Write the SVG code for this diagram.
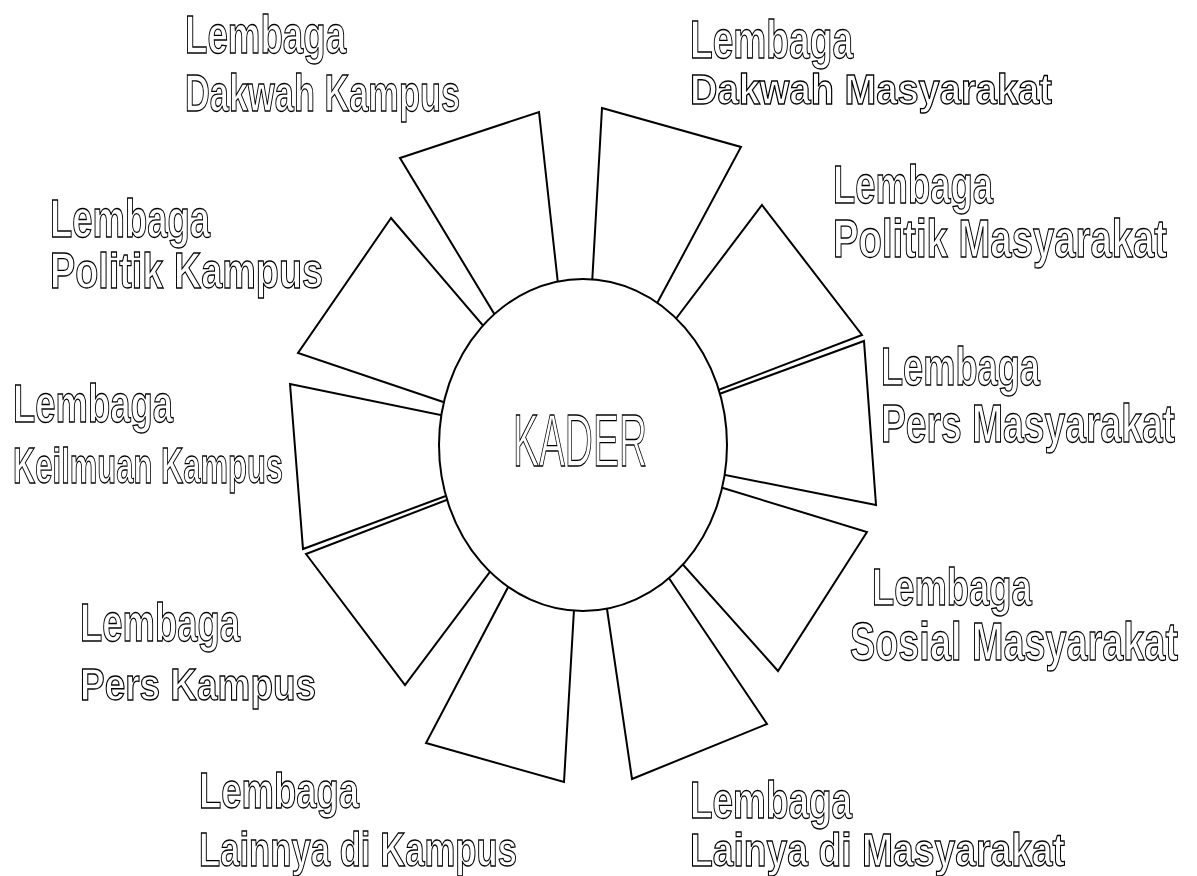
<svg xmlns="http://www.w3.org/2000/svg" width="1197" height="876" viewBox="0 0 1197 876">
<defs>
<filter id="gray" x="-5%" y="-20%" width="110%" height="140%"><feOffset dx="0" dy="0"/></filter>
</defs>
<style>
.petal{fill:#fff;stroke:#000;stroke-width:2;stroke-linejoin:miter}
.core{fill:#fff;stroke:#000;stroke-width:2}
.lbl{font-family:"Liberation Sans","DejaVu Sans",sans-serif;font-weight:bold;fill:#fff;stroke:#000;stroke-width:1.3}
.kader{font-family:"Liberation Sans","DejaVu Sans",sans-serif;fill:#fff;stroke:#000;stroke-width:1.3;font-size:74px}
.txt{filter:url(#gray)}
</style>
<rect width="1197" height="876" fill="#fff"/>
<g id="connectors"></g>
<g id="dakwah-kampus">
<polygon class="petal" points="400,158 539,112 562,320 510,340"/>
<g class="txt">
<text class="lbl" font-size="53" transform="translate(185,53) scale(0.692,1)" textLength="232.7" lengthAdjust="spacingAndGlyphs">Lembaga</text>
<text class="lbl" font-size="51" transform="translate(185,111) scale(0.674,1)" textLength="408" lengthAdjust="spacingAndGlyphs">Dakwah Kampus</text>
</g>
</g>
<g id="dakwah-masyarakat">
<polygon class="petal" points="602,108 741,147 640,335 590,320"/>
<g class="txt">
<text class="lbl" font-size="53" transform="translate(690,58) scale(0.70,1)" textLength="232.9" lengthAdjust="spacingAndGlyphs">Lembaga</text>
<text class="lbl" font-size="42" transform="translate(690,104) scale(0.907,1)" textLength="399.1" lengthAdjust="spacingAndGlyphs">Dakwah Masyarakat</text>
</g>
</g>
<g id="politik-masyarakat">
<polygon class="petal" points="762,205 862,335 700,397 650,353"/>
<g class="txt">
<text class="lbl" font-size="53" transform="translate(833,203) scale(0.688,1)" textLength="232.6" lengthAdjust="spacingAndGlyphs">Lembaga</text>
<text class="lbl" font-size="53" transform="translate(833,257) scale(0.722,1)" textLength="462.6" lengthAdjust="spacingAndGlyphs">Politik Masyarakat</text>
</g>
</g>
<g id="pers-masyarakat">
<polygon class="petal" points="864,341 876,505 700,470 700,401"/>
<g class="txt">
<text class="lbl" font-size="53" transform="translate(881,385) scale(0.683,1)" textLength="232.8" lengthAdjust="spacingAndGlyphs">Lembaga</text>
<text class="lbl" font-size="53" transform="translate(881,442) scale(0.703,1)" textLength="418.2" lengthAdjust="spacingAndGlyphs">Pers Masyarakat</text>
</g>
</g>
<g id="sosial-masyarakat">
<polygon class="petal" points="867,532 778,671 660,539 700,481"/>
<g class="txt">
<text class="lbl" font-size="52" transform="translate(872,605) scale(0.70,1)" textLength="228.3" lengthAdjust="spacingAndGlyphs">Lembaga</text>
<text class="lbl" font-size="53" transform="translate(850,660) scale(0.714,1)" textLength="459.4" lengthAdjust="spacingAndGlyphs">Sosial Masyarakat</text>
</g>
</g>
<g id="lainya-masyarakat">
<polygon class="petal" points="632,779 767,724 650,550 602,575"/>
<g class="txt">
<text class="lbl" font-size="51" transform="translate(690,818) scale(0.724,1)" textLength="223.9" lengthAdjust="spacingAndGlyphs">Lembaga</text>
<text class="lbl" font-size="47" transform="translate(690,866) scale(0.793,1)" textLength="472.9" lengthAdjust="spacingAndGlyphs">Lainya di Masyarakat</text>
</g>
</g>
<g id="lainnya-kampus">
<polygon class="petal" points="426,743 564,782 576,575 525,555"/>
<g class="txt">
<text class="lbl" font-size="50" transform="translate(199,808) scale(0.729,1)" textLength="219.5" lengthAdjust="spacingAndGlyphs">Lembaga</text>
<text class="lbl" font-size="48" transform="translate(199,866) scale(0.723,1)" textLength="439.8" lengthAdjust="spacingAndGlyphs">Lainnya di Kampus</text>
</g>
</g>
<g id="pers-kampus">
<polygon class="petal" points="306,554 405,685 510,545 470,491"/>
<g class="txt">
<text class="lbl" font-size="53" transform="translate(80,641) scale(0.688,1)" textLength="232.6" lengthAdjust="spacingAndGlyphs">Lembaga</text>
<text class="lbl" font-size="45" transform="translate(80,700) scale(0.821,1)" textLength="287.5" lengthAdjust="spacingAndGlyphs">Pers Kampus</text>
</g>
</g>
<g id="keilmuan-kampus">
<polygon class="petal" points="290,384 303,549 470,487 470,421"/>
<g class="txt">
<text class="lbl" font-size="53" transform="translate(13,422) scale(0.688,1)" textLength="232.6" lengthAdjust="spacingAndGlyphs">Lembaga</text>
<text class="lbl" font-size="50" transform="translate(13,483) scale(0.619,1)" textLength="436.2" lengthAdjust="spacingAndGlyphs">Keilmuan Kampus</text>
</g>
</g>
<g id="politik-kampus">
<polygon class="petal" points="391,218 298,353 470,411 510,357"/>
<g class="txt">
<text class="lbl" font-size="53" transform="translate(50,237) scale(0.688,1)" textLength="232.6" lengthAdjust="spacingAndGlyphs">Lembaga</text>
<text class="lbl" font-size="50" transform="translate(50,288) scale(0.756,1)" textLength="361.1" lengthAdjust="spacingAndGlyphs">Politik Kampus</text>
</g>
</g>
<g id="kader">
<ellipse class="core" cx="583" cy="445" rx="144" ry="166"/>
<g class="txt">
<text class="kader" transform="translate(513,466) scale(0.525,1)" textLength="255.2" lengthAdjust="spacingAndGlyphs">KADER</text>
</g>
</g>
</svg>
